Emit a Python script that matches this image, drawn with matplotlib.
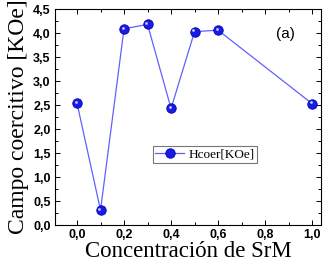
import matplotlib
matplotlib.use("Agg")
import matplotlib.pyplot as plt
from matplotlib.ticker import MultipleLocator
from matplotlib.transforms import offset_copy

x_vals = [0.0, 0.1, 0.2, 0.3, 0.4, 0.5, 0.6, 1.0]
hcoer = [2.54, 0.31, 4.09, 4.18, 2.43, 4.03, 4.06, 2.53]
x_ticks = [0.0, 0.2, 0.4, 0.6, 0.8, 1.0]
x_ticklabels = ["0,0", "0,2", "0,4", "0,6", "0,8", "1,0"]
y_ticks = [0.0, 0.5, 1.0, 1.5, 2.0, 2.5, 3.0, 3.5, 4.0, 4.5]
y_ticklabels = ["0,0", "0,5", "1,0", "1,5", "2,0", "2,5", "3,0", "3,5", "4,0", "4,5"]

fig = plt.figure(figsize=(3.23, 2.67), dpi=100)
ax = fig.add_axes([0.170, 0.157, 0.824, 0.809])

ax.plot(x_vals, hcoer, color="#6060ff", lw=0.9, marker="o", markersize=6.8,
        markerfacecolor="#1a1ae6", markeredgecolor="#0000b0", markeredgewidth=0.6,
        label="Hcoer[KOe]")
hl = offset_copy(ax.transData, fig=fig, x=-0.9, y=0.9, units="points")
ax.plot(x_vals, hcoer, ls="none", marker="o", markersize=2.0, transform=hl,
        markerfacecolor="#c8c8ff", markeredgecolor="none")

ax.set_xlim(-0.094, 1.038)
ax.set_ylim(0, 4.5)
ax.set_xticks(x_ticks)
ax.set_xticklabels(x_ticklabels)
ax.set_yticks(y_ticks)
ax.set_yticklabels(y_ticklabels)
ax.xaxis.set_minor_locator(MultipleLocator(0.1))
ax.yaxis.set_minor_locator(MultipleLocator(0.25))
ax.tick_params(which="both", direction="in", top=True, right=True, width=0.7)
ax.tick_params(which="major", length=3.5, labelsize=9, pad=3)
ax.tick_params(which="minor", length=2)
for lab in ax.get_xticklabels() + ax.get_yticklabels():
    lab.set_fontweight("bold")
    lab.set_family("Liberation Sans")
for s in ax.spines.values():
    s.set_linewidth(0.8)

ax.set_xlabel("Concentración de SrM", family="Liberation Serif", fontsize=16.5, labelpad=0)
ax.set_ylabel("Campo coercitivo [KOe]", family="Liberation Serif", fontsize=17, labelpad=3)

ax.text(0.866, 0.886, "(a)", transform=ax.transAxes, family="Liberation Sans",
        fontsize=11, ha="center", va="center")

leg = ax.legend(loc="center", bbox_to_anchor=(0.563, 0.326), frameon=True, fancybox=False,
                prop={"family": "Liberation Serif", "size": 9.5}, handlelength=2.2,
                handletextpad=0.3, borderpad=0.2, borderaxespad=0)
leg.get_frame().set_edgecolor("#555555")
leg.get_frame().set_linewidth(0.8)

fig.savefig("out.png", dpi=100)
